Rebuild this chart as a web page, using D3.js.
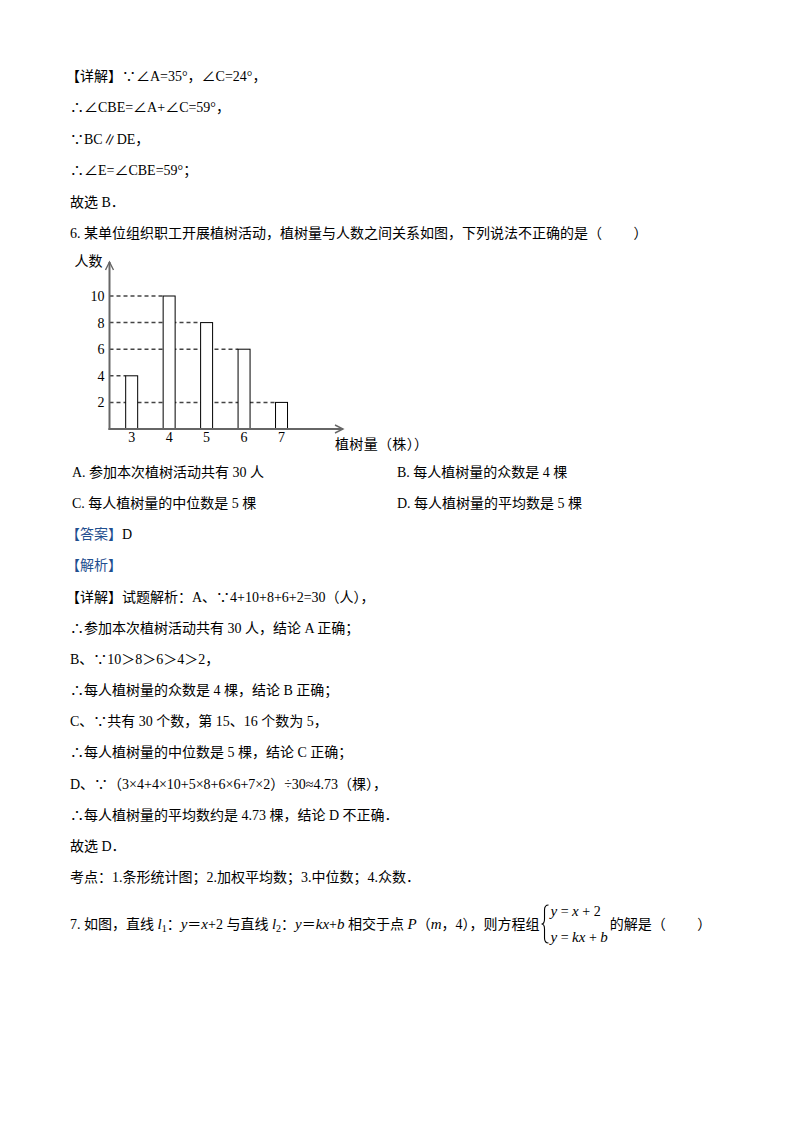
<!DOCTYPE html>
<html>
<head>
<meta charset="utf-8">
<script src="https://cdn.jsdelivr.net/npm/d3@7"></script>
<style>
  html, body { margin: 0; padding: 0; background: #fff; }
  svg text { font-family: "Liberation Serif", "Noto Sans CJK SC", serif; font-size: 14px; fill: #000; }
</style>
</head>
<body>
<svg id="page"></svg>
<script>
// chart data
const treeCounts = ['3', '4', '5', '6', '7'];
const people = [4, 10, 8, 6, 2];
const yTicks = [2, 4, 6, 8, 10];
const xTitle = '植树量（株））';
const yTitle = '人数';

// page text, one entry per line (segments: [text, style])
const topLines = [
    [['【详解】∵∠A=35°，∠C=24°，']],
    [['∴∠CBE=∠A+∠C=59°，']],
    [['∵BC∥DE，']],
    [['∴∠E=∠CBE=59°；']],
    [['故选 B．']],
    [['6. 某单位组织职工开展植树活动，植树量与人数之间关系如图，下列说法不正确的是（　 　）']]
];
const optionLines = [
    ['A. 参加本次植树活动共有 30 人', 'B. 每人植树量的众数是 4 棵'],
    ['C. 每人植树量的中位数是 5 棵', 'D. 每人植树量的平均数是 5 棵']
];
const answerLines = [
    [['【答案】', 'blue'], ['D']],
    [['【解析】', 'blue']],
    [['【详解】试题解析：A、∵4+10+8+6+2=30（人），']],
    [['∴参加本次植树活动共有 30 人，结论 A 正确；']],
    [['B、∵10＞8＞6＞4＞2，']],
    [['∴每人植树量的众数是 4 棵，结论 B 正确；']],
    [['C、∵共有 30 个数，第 15、16 个数为 5，']],
    [['∴每人植树量的中位数是 5 棵，结论 C 正确；']],
    [['D、∵（3×4+4×10+5×8+6×6+7×2）÷30≈4.73（棵），']],
    [['∴每人植树量的平均数约是 4.73 棵，结论 D 不正确．']],
    [['故选 D．']],
    [['考点：1.条形统计图；2.加权平均数；3.中位数；4.众数．']]
];
const q7Line = [
    ['7. 如图，直线 '], ['l', 'i'], ['1', 'sub'], ['：'], ['y', 'i'], ['＝'], ['x', 'i'], ['+2 与直线 '],
    ['l', 'i'], ['2', 'sub'], ['：'], ['y', 'i'], ['＝'], ['kx', 'i'], ['+'], ['b', 'i'],
    [' 相交于点 '], ['P', 'i'], ['（'], ['m', 'i'], ['，4），则方程组']
];
const systemRows = [
    [['y', 'i'], [' = '], ['x', 'i'], [' + 2']],
    [['y', 'i'], [' = '], ['kx', 'i'], [' + '], ['b', 'i']]
];
const q7Tail = '的解是（　 　）';

const width = 794;
const height = 1123;
const blue = '#1f4f8f';

const svg = d3.select('#page')
    .attr('width', width)
    .attr('height', height);

svg.append('rect').attr('width', width).attr('height', height).attr('fill', '#fff');

function writeLine(parent, x, baseline, segs) {
    const t = parent.append('text')
        .attr('x', x)
        .attr('y', baseline);
    segs.forEach(function (s) {
        const sp = t.append('tspan').text(s[0]);
        if (s[1] === 'blue') sp.attr('fill', blue);
        if (s[1] === 'i') sp.attr('font-style', 'italic').attr('font-size', 15);
        if (s[1] === 'sub') sp.attr('font-size', 10).attr('baseline-shift', '-3');
    });
    return t;
}

const left = 70;
const bracketLeft = 66;
function startX(segs) { return segs[0][0].charAt(0) === '【' ? bracketLeft : left; }

topLines.forEach(function (segs, i) {
    writeLine(svg, startX(segs), 81 + i * 31.4, segs);
});

optionLines.forEach(function (pair, i) {
    writeLine(svg, left + 2, 477 + i * 31.15, [[pair[0]]]);
    writeLine(svg, 397, 477 + i * 31.15, [[pair[1]]]);
});

answerLines.forEach(function (segs, i) {
    writeLine(svg, startX(segs), 477 + (i + 2) * 31.15, segs);
});

// question 7 with the equation system
const q7 = writeLine(svg, left, 929, q7Line);
const q7End = left + q7.node().getComputedTextLength();
const braceX = q7End + 3;
svg.append('path')
    .attr('d', `M${braceX + 6},905 Q${braceX + 2},905 ${braceX + 2},910 L${braceX + 2},919 Q${braceX + 2},924 ${braceX - 1},924 Q${braceX + 2},924 ${braceX + 2},929 L${braceX + 2},938 Q${braceX + 2},943 ${braceX + 6},943`)
    .attr('fill', 'none')
    .attr('stroke', '#000')
    .attr('stroke-width', 1.1);
const sys1 = writeLine(svg, braceX + 8, 916, systemRows[0]);
const sys2 = writeLine(svg, braceX + 8, 942, systemRows[1]);
const sysEnd = braceX + 8 + Math.max(sys1.node().getComputedTextLength(), sys2.node().getComputedTextLength());
writeLine(svg, sysEnd + 2, 929, [[q7Tail]]);

// bar chart
const x = d3.scaleBand()
    .domain(treeCounts)
    .range([109.5, 303.7])
    .paddingInner(0.68)
    .paddingOuter(0.432);

const y = d3.scaleLinear()
    .domain([0, 10])
    .range([429, 296]);

const x0 = x.range()[0];
const y0 = y(0);
const chart = svg.append('g');

// dashed guides from the axis to each bar
const guides = yTicks.map(function (t) {
    return { value: t, cat: treeCounts[people.indexOf(t)] };
});
chart.selectAll('.guide')
    .data(guides)
    .enter()
    .append('line')
    .attr('class', 'guide')
    .attr('x1', x0)
    .attr('x2', function (d) { return x(d.cat); })
    .attr('y1', function (d) { return y(d.value); })
    .attr('y2', function (d) { return y(d.value); })
    .attr('stroke', '#444')
    .attr('stroke-width', 1.5)
    .attr('stroke-dasharray', '4,3');

chart.selectAll('.bar')
    .data(people)
    .enter()
    .append('rect')
    .attr('class', 'bar')
    .attr('x', function (d, i) { return x(treeCounts[i]); })
    .attr('y', function (d) { return y(d); })
    .attr('width', x.bandwidth())
    .attr('height', function (d) { return y0 - y(d); })
    .attr('fill', '#fff')
    .attr('stroke', '#000')
    .attr('stroke-width', 1);

// tick labels through d3 axes
const yAxisG = chart.append('g')
    .attr('transform', `translate(${x0}, 0)`)
    .call(d3.axisLeft(y).tickValues(yTicks).tickSize(0).tickPadding(5));
const xAxisG = chart.append('g')
    .attr('transform', `translate(0, ${y0})`)
    .call(d3.axisBottom(x).tickSize(0).tickPadding(3));
[yAxisG, xAxisG].forEach(function (g) {
    g.select('.domain').remove();
    g.selectAll('text')
        .attr('font-family', '"Liberation Serif", serif')
        .attr('font-size', 14)
        .attr('fill', '#000');
});

// axis lines with open arrows
const axisColor = '#666';
const yTop = 262;
const xEnd = 343;
chart.append('line')
    .attr('x1', x0).attr('y1', y0 + 1).attr('x2', x0).attr('y2', yTop)
    .attr('stroke', axisColor).attr('stroke-width', 2);
chart.append('line')
    .attr('x1', x0 - 1).attr('y1', y0).attr('x2', xEnd).attr('y2', y0)
    .attr('stroke', axisColor).attr('stroke-width', 2);
chart.append('path')
    .attr('d', `M${x0 - 4},${yTop + 8} L${x0},${yTop} L${x0 + 4},${yTop + 8}`)
    .attr('fill', 'none').attr('stroke', axisColor).attr('stroke-width', 1.4);
chart.append('path')
    .attr('d', `M${xEnd - 8},${y0 - 4} L${xEnd},${y0} L${xEnd - 8},${y0 + 4}`)
    .attr('fill', 'none').attr('stroke', axisColor).attr('stroke-width', 1.4);

chart.append('text')
    .attr('x', x0 - 35)
    .attr('y', yTop + 4)
    .attr('font-size', 14)
    .text(yTitle);
chart.append('text')
    .attr('x', xEnd - 8)
    .attr('y', y0 + 20)
    .attr('font-size', 13.5)
    .attr('textLength', 93)
    .attr('lengthAdjust', 'spacing')
    .text(xTitle);
</script>
</body>
</html>
